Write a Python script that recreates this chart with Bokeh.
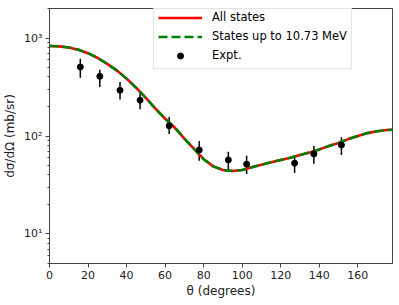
from bokeh.plotting import figure
from bokeh.models import ColumnDataSource, Whisker, FixedTicker, Legend, LegendItem, Range1d
from bokeh.embed import file_html
from bokeh.resources import INLINE

# ---- data ----
theta_curve = [0, 5, 10, 15, 20, 25, 30, 35, 40, 45, 50, 55, 60, 65, 70, 75, 80, 85, 90,
               95, 100, 105, 110, 115, 120, 125, 130, 135, 140, 145, 150, 155, 160, 165,
               170, 175, 178]
all_states = [830, 822, 800, 760, 700, 625, 545, 465, 385, 310, 245, 190, 150, 122, 94, 74,
              58, 49, 45, 44, 45, 48, 51, 54, 57, 60, 64, 68, 73, 79, 85, 93, 100, 107,
              112, 115, 116]
states_1073 = [830, 822, 800, 760, 700, 625, 545, 465, 385, 310, 245, 190, 150, 122, 94, 74,
               58, 49, 45, 44, 45, 48, 51, 54, 57, 60, 64, 68, 73, 79, 85, 93, 100, 107,
               112, 115, 116]

theta_exp = [16.0, 26.1, 36.6, 47.0, 62.1, 77.7, 92.8, 102.3, 127.2, 137.2, 151.5]
xs_exp = [506, 406, 293, 232, 127, 72, 57, 51.6, 52.8, 65.6, 81]
xs_lo = [394, 317, 236, 187, 105, 56, 45, 41, 42, 52, 64]
xs_hi = [615, 475, 356, 282, 156, 89, 69, 63, 63, 79, 97]

x_ticks = [0, 20, 40, 60, 80, 100, 120, 140, 160]
y_ticks = [10, 100, 1000]
y_tick_labels = {10: "10¹", 100: "10²", 1000: "10³"}

FONT = "DejaVu Sans"
FW, FH = 343, 255

p = figure(frame_width=FW, frame_height=FH, output_backend="svg", toolbar_location=None,
           y_axis_type="log", x_range=Range1d(0, 178), y_range=Range1d(5, 2000),
           min_border_left=39, min_border_right=4, min_border_top=8, min_border_bottom=0)
p.outline_line_color = "#444444"
p.outline_line_width = 1
p.grid.visible = False
p.background_fill_color = "white"

curve_src = ColumnDataSource(dict(x=theta_curve, a=all_states, b=states_1073))
r_all = p.line("x", "a", source=curve_src, line_color="#ff0000", line_width=2.6)
r_1073 = p.line("x", "b", source=curve_src, line_color="#008000", line_width=2.6,
                line_dash="9 4")

exp_src = ColumnDataSource(dict(x=theta_exp, y=xs_exp, lo=xs_lo, hi=xs_hi))
w = Whisker(base="x", lower="lo", upper="hi", source=exp_src, dimension="height",
            line_color="black", line_width=1.5)
w.upper_head = None
w.lower_head = None
p.add_layout(w)
r_exp = p.scatter("x", "y", source=exp_src, size=6, color="black")

LEG_H = 3 * 18 + 2 * 1 + 2 * 4 - 4
legend = Legend(items=[
    LegendItem(label="All states", renderers=[r_all]),
    LegendItem(label="States up to 10.73 MeV", renderers=[r_1073]),
    LegendItem(label="Expt.", renderers=[r_exp]),
], location=(104, FH - 1 - LEG_H))
legend.label_text_font = FONT
legend.label_text_font_size = "11.5px"
legend.label_text_color = "black"
legend.glyph_width = 44
legend.glyph_height = 15
legend.label_height = 18
legend.spacing = 1
legend.padding = 4
legend.margin = 0
legend.label_standoff = 10
legend.border_line_color = "#cccccc"
legend.border_line_width = 1
legend.background_fill_alpha = 0.85
p.add_layout(legend, "center")

p.xaxis.ticker = FixedTicker(ticks=x_ticks)
minor = [m * 10 ** k for k in range(0, 4) for m in range(2, 10)]
p.yaxis.ticker = FixedTicker(ticks=y_ticks, minor_ticks=minor)
p.yaxis.major_label_overrides = y_tick_labels

for ax in (p.xaxis, p.yaxis):
    ax.axis_line_color = "#444444"
    ax.major_tick_line_color = "#444444"
    ax.minor_tick_line_color = "#444444"
    ax.major_tick_out = 4
    ax.major_tick_in = 0
    ax.minor_tick_out = 2
    ax.minor_tick_in = 0
    ax.major_label_text_font = FONT
    ax.major_label_text_font_size = "11px"
    ax.major_label_text_color = "#222222"
    ax.axis_label_text_font = FONT
    ax.axis_label_text_font_size = "12px"
    ax.axis_label_text_font_style = "normal"
    ax.axis_label_text_color = "#222222"
p.xaxis.minor_tick_line_color = None
p.xaxis.axis_label = "θ (degrees)"
p.yaxis.axis_label = "dσ/dΩ (mb/sr)"
p.xaxis.axis_label_standoff = 2
p.yaxis.axis_label_standoff = 4
p.xaxis.major_label_standoff = 3
p.yaxis.major_label_standoff = 3

open("out.html", "w").write(file_html(p, INLINE))
